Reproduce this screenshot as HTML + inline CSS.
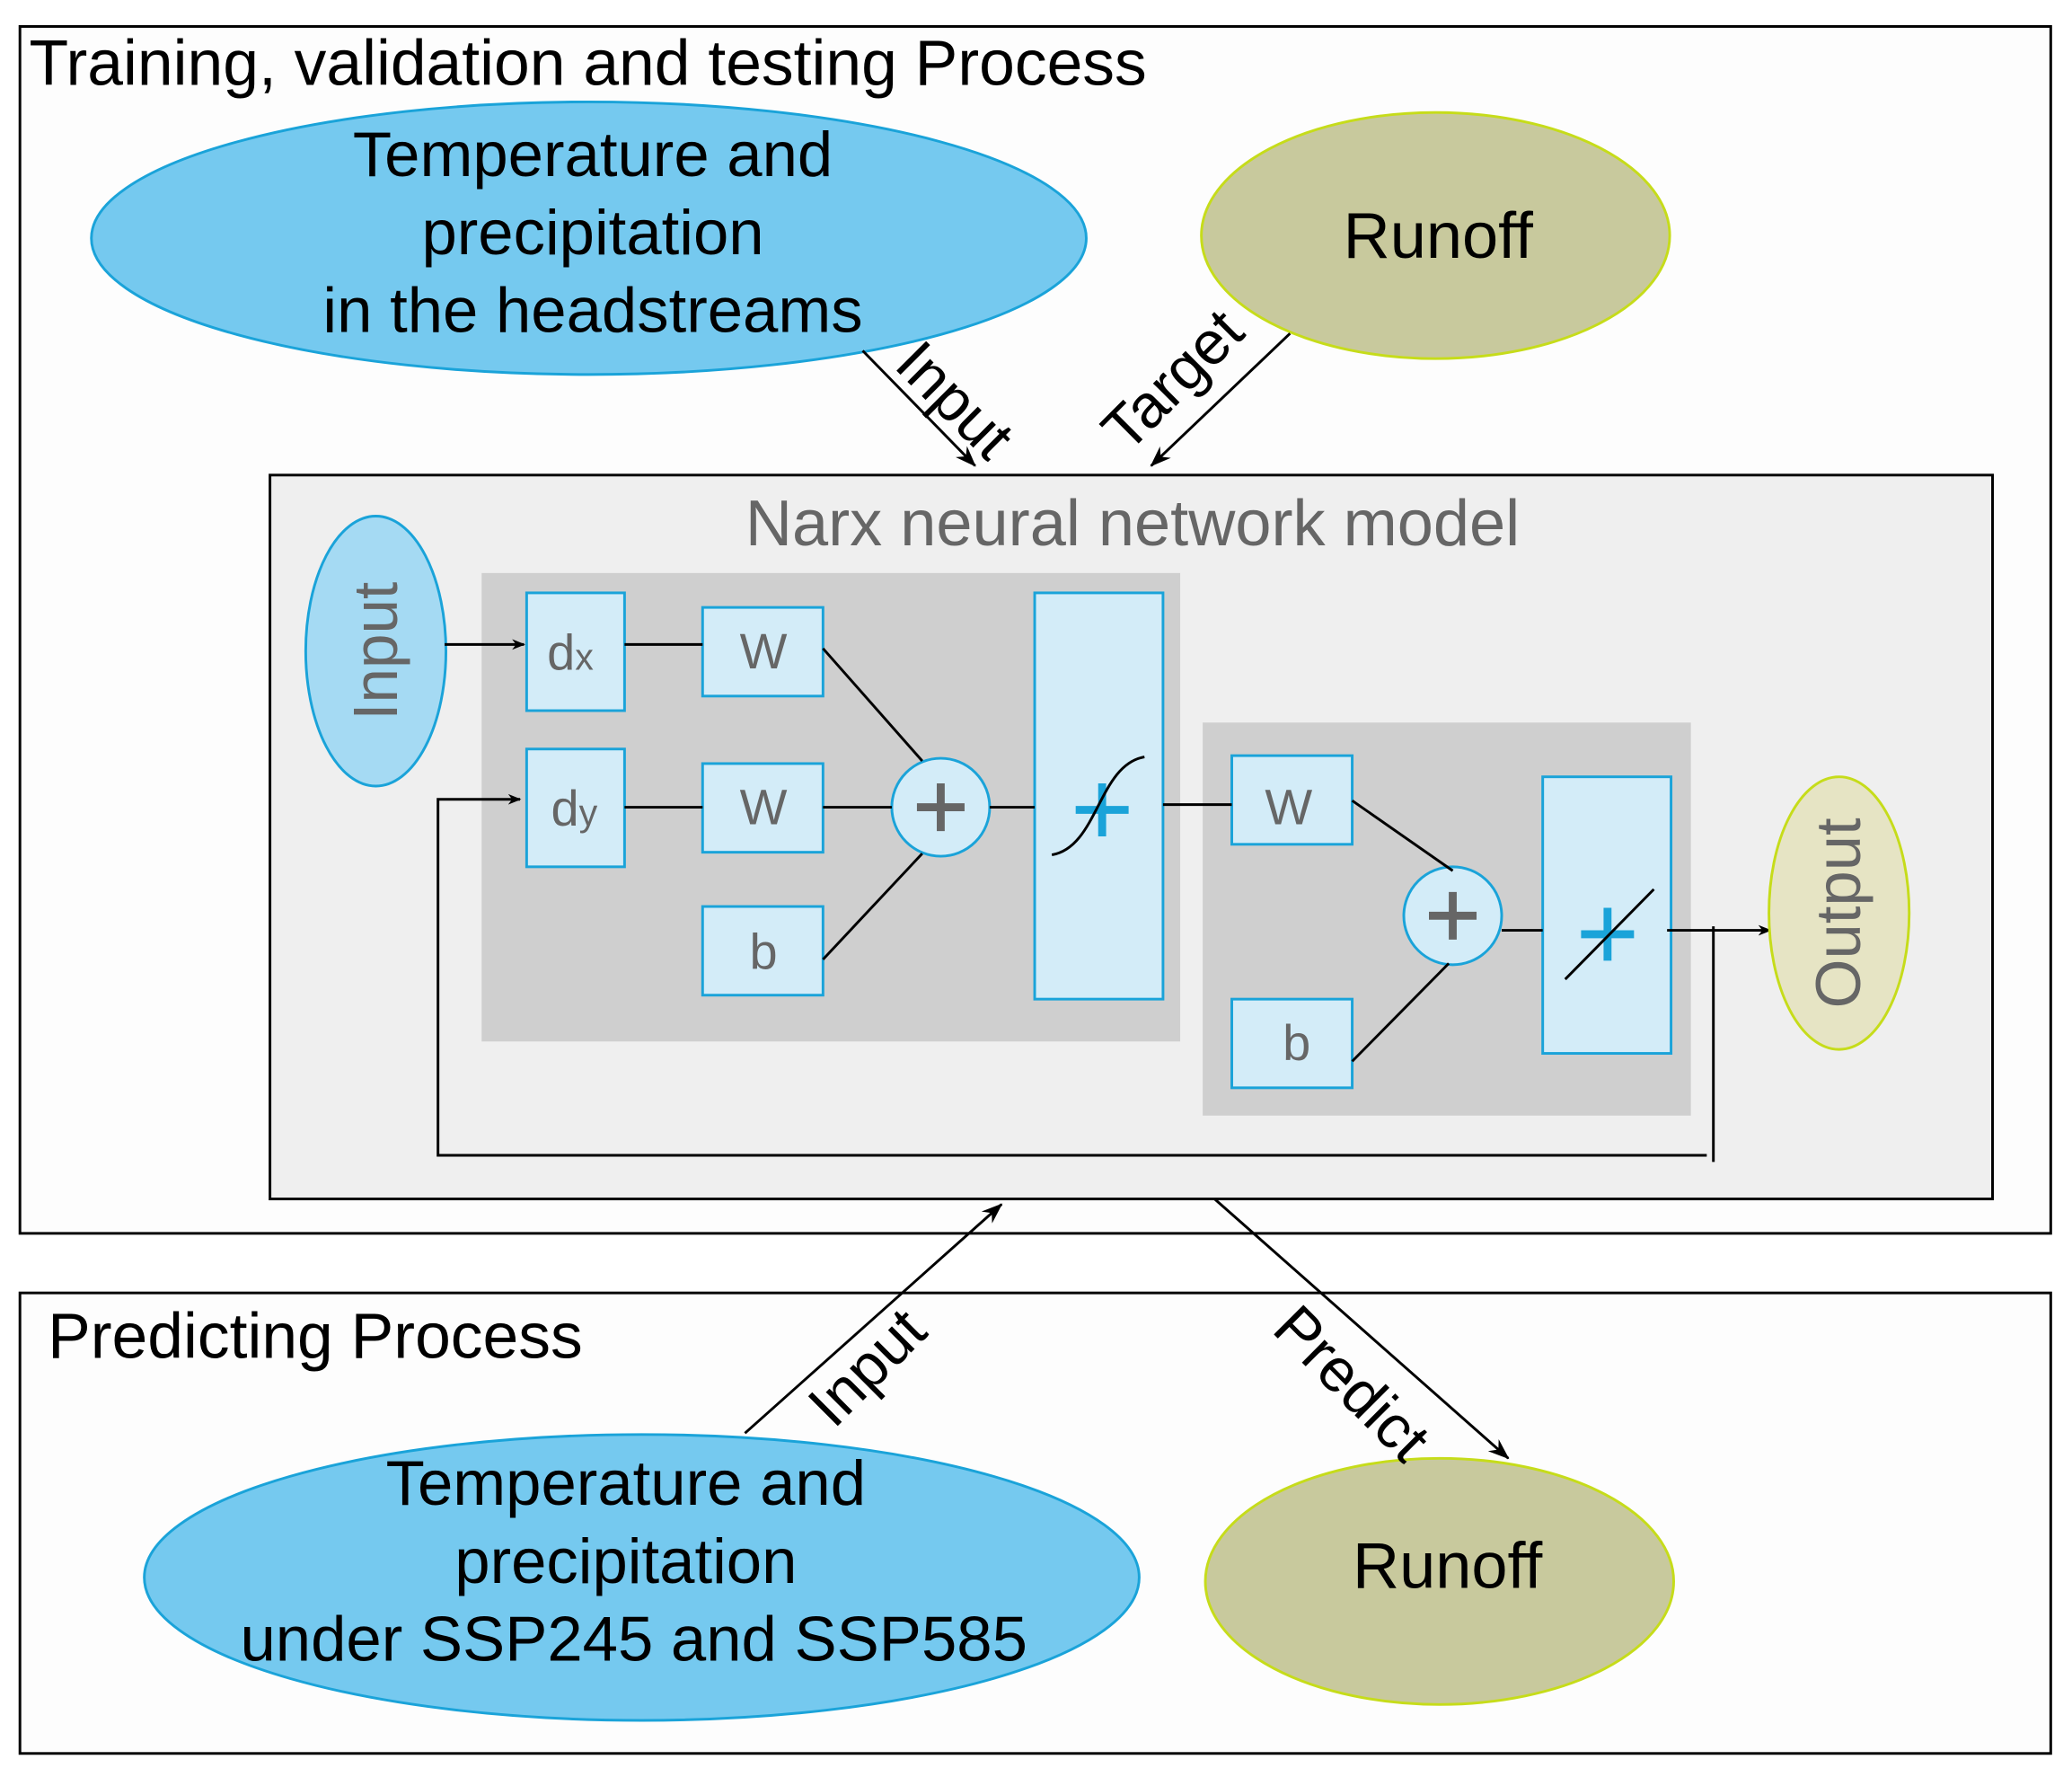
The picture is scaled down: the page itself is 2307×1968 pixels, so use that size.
<!DOCTYPE html>
<html><head><style>html,body{margin:0;padding:0;background:#fff}svg{display:block}</style></head>
<body>
<svg width="2307" height="1968" viewBox="0 0 1566 1336" xmlns="http://www.w3.org/2000/svg" font-family="Liberation Sans, Arial, sans-serif">
<defs>
<marker id="a" markerWidth="10" markerHeight="8" refX="9" refY="4" orient="auto" markerUnits="userSpaceOnUse" viewBox="0 0 10 8"><path d="M0,0 L10,4 L0,8 L3,4z" fill="#000"/></marker>
<marker id="b" markerWidth="16" markerHeight="12" refX="15" refY="6" orient="auto" markerUnits="userSpaceOnUse" viewBox="0 0 16 12"><path d="M0,0 L16,6 L0,12 L5,6z" fill="#000"/></marker>
</defs>
<rect width="1566" height="1336" fill="#fff"/>
<rect x="15" y="20" width="1535" height="912" fill="#fdfdfd" stroke="#000" stroke-width="2"/>
<text x="22" y="64" font-size="48.5">Training, validation and testing Process</text>
<ellipse cx="445" cy="180" rx="376" ry="103" fill="#75c9ef" stroke="#1aa3d9" stroke-width="2"/>
<g font-size="48" text-anchor="middle"><text x="448" y="133">Temperature and</text><text x="448" y="192">precipitation</text><text x="448" y="251">in the headstreams</text></g>
<ellipse cx="1085" cy="178" rx="177" ry="93" fill="#c8c99d" stroke="#c6dc1a" stroke-width="2"/>
<text x="1087" y="195" font-size="49" text-anchor="middle">Runoff</text>
<line x1="652" y1="265" x2="737" y2="352" stroke="#000" stroke-width="2" marker-end="url(#b)"/>
<text transform="translate(722,302) rotate(45)" font-size="46" text-anchor="middle" dy="16">Input</text>
<line x1="975" y1="252" x2="870" y2="352" stroke="#000" stroke-width="2" marker-end="url(#b)"/>
<text transform="translate(886,287) rotate(-45)" font-size="46" text-anchor="middle" dy="16">Target</text>

<rect x="204" y="359" width="1302" height="547" fill="#efefef" stroke="#000" stroke-width="2"/>
<text x="856" y="412" font-size="49" fill="#666" text-anchor="middle">Narx neural network model</text>
<ellipse cx="284" cy="492" rx="53" ry="102" fill="#a5daf3" stroke="#1aa3d9" stroke-width="2"/>
<text transform="translate(284,492) rotate(-90)" font-size="47" fill="#666" text-anchor="middle" dy="16">Input</text>
<rect x="364" y="433" width="528" height="354" fill="#cfcfcf"/>
<rect x="909" y="546" width="369" height="297" fill="#cfcfcf"/>
<g fill="#d3ecf8" stroke="#1aa3d9" stroke-width="2">
<rect x="398" y="448" width="74" height="89"/><rect x="398" y="566" width="74" height="89"/>
<rect x="531" y="459" width="91" height="67"/><rect x="531" y="577" width="91" height="67"/><rect x="531" y="685" width="91" height="67"/>
<rect x="782" y="448" width="97" height="307"/>
<rect x="931" y="571" width="91" height="67"/><rect x="931" y="755" width="91" height="67"/>
<rect x="1166" y="587" width="97" height="209"/>
<circle cx="711" cy="610" r="37"/><circle cx="1098" cy="692" r="37"/>
</g>
<g fill="#666" font-size="38" text-anchor="middle">
<text x="431" y="506">d<tspan font-size="28">x</tspan></text>
<text x="434" y="624">d<tspan font-size="28">y</tspan></text>
<text x="577" y="505">W</text><text x="577" y="623">W</text><text x="577" y="732">b</text>
<text x="974" y="623">W</text><text x="980" y="801">b</text>
</g>
<g stroke="#666" stroke-width="6"><line x1="693" y1="610" x2="729" y2="610"/><line x1="711" y1="592" x2="711" y2="628"/>
<line x1="1080" y1="692" x2="1116" y2="692"/><line x1="1098" y1="674" x2="1098" y2="710"/></g>
<g stroke="#1aa3d9" stroke-width="6"><line x1="813" y1="612" x2="853" y2="612"/><line x1="833" y1="592" x2="833" y2="632"/>
<line x1="1195" y1="706" x2="1235" y2="706"/><line x1="1215" y1="686" x2="1215" y2="726"/></g>
<path d="M795,646 C830,640 830,578 865,572" fill="none" stroke="#000" stroke-width="2"/>
<line x1="1183" y1="740" x2="1250" y2="672" stroke="#000" stroke-width="2"/>
<g stroke="#000" stroke-width="2" fill="none">
<line x1="472" y1="487" x2="531" y2="487"/><line x1="472" y1="610" x2="531" y2="610"/>
<line x1="622" y1="610" x2="674" y2="610"/><line x1="622" y1="490" x2="697" y2="575"/><line x1="622" y1="725" x2="697" y2="645"/>
<line x1="748" y1="610" x2="782" y2="610"/><line x1="879" y1="608" x2="931" y2="608"/>
<line x1="1022" y1="605" x2="1098" y2="658"/><line x1="1022" y1="802" x2="1095" y2="728"/>
<line x1="1135" y1="703" x2="1166" y2="703"/>
<line x1="1260" y1="703" x2="1338" y2="703" marker-end="url(#a)"/>
<line x1="336" y1="487" x2="396" y2="487" marker-end="url(#a)"/>
<polyline points="1295,700 1295,878"/>
<polyline points="1290,873 331,873 331,604 393,604" marker-end="url(#a)"/>
</g>
<ellipse cx="1390" cy="690" rx="53" ry="103" fill="#e6e4c4" stroke="#c6dc1a" stroke-width="2"/>
<text transform="translate(1390,690) rotate(-90)" font-size="48" fill="#666" text-anchor="middle" dy="16">Output</text>

<rect x="15" y="977" width="1535" height="348" fill="#fdfdfd" stroke="#000" stroke-width="2"/>
<text x="36" y="1026" font-size="48.5">Predicting Process</text>
<ellipse cx="485" cy="1192" rx="376" ry="108" fill="#75c9ef" stroke="#1aa3d9" stroke-width="2"/>
<g font-size="48" text-anchor="middle"><text x="473" y="1137">Temperature and</text><text x="473" y="1196">precipitation</text><text x="479" y="1255">under SSP245 and SSP585</text></g>
<ellipse cx="1088" cy="1195" rx="177" ry="93" fill="#c8c99d" stroke="#c6dc1a" stroke-width="2"/>
<text x="1094" y="1200" font-size="49" text-anchor="middle">Runoff</text>
<line x1="563" y1="1083" x2="757" y2="910" stroke="#000" stroke-width="2" marker-end="url(#b)"/>
<text transform="translate(655,1033) rotate(-45)" font-size="46" text-anchor="middle" dy="16">Input</text>
<line x1="918" y1="906" x2="1140" y2="1102" stroke="#000" stroke-width="2" marker-end="url(#b)"/>
<text transform="translate(1022,1045) rotate(45)" font-size="46" text-anchor="middle" dy="16">Predict</text>
</svg>
</body></html>
